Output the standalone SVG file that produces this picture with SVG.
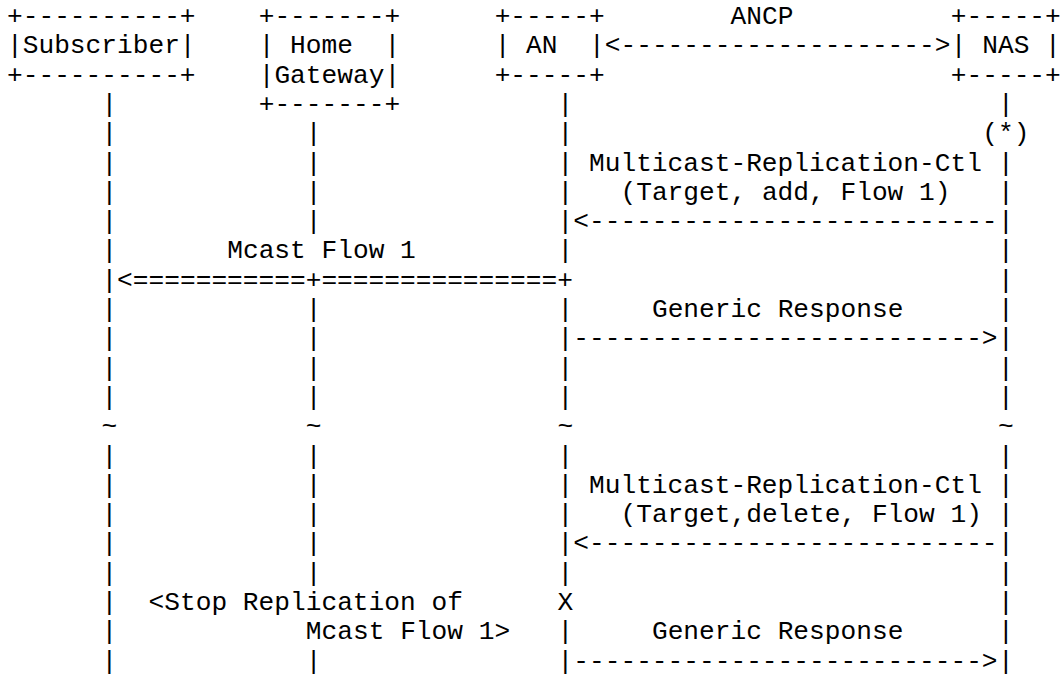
<svg xmlns="http://www.w3.org/2000/svg" width="1061" height="675" viewBox="0 0 1061 675">
<style>
.t{font-family:"Liberation Mono","Courier New",monospace;font-size:26.2px;fill:#000;white-space:pre}
</style>
<rect width="1061" height="675" fill="#fff"/>
<g id="subscriber">
<text class="t" x="7" y="24">+----------+</text>
<text class="t" x="7" y="53.3">|Subscriber|</text>
<text class="t" x="7" y="82.6">+----------+</text>
</g>
<g id="home-gateway">
<text class="t" x="258.68" y="24">+-------+</text>
<text class="t" x="258.68" y="53.3">| Home  |</text>
<text class="t" x="258.68" y="82.6">|Gateway|</text>
<text class="t" x="258.68" y="111.9">+-------+</text>
</g>
<g id="an">
<text class="t" x="494.63" y="24">+-----+</text>
<text class="t" x="494.63" y="53.3">| AN  |</text>
<text class="t" x="494.63" y="82.6">+-----+</text>
</g>
<g id="nas">
<text class="t" x="950.8" y="24">+-----+</text>
<text class="t" x="950.8" y="53.3">| NAS |</text>
<text class="t" x="950.8" y="82.6">+-----+</text>
</g>
<g id="connectors">
<text class="t" x="730.58" y="24">ANCP</text>
<text class="t" x="604.74" y="53.3">&lt;--------------------&gt;</text>
<!-- Subscriber lifeline -->
<text class="t" x="101.38" y="111.9">|</text>
<text class="t" x="101.38" y="141.2">|</text>
<text class="t" x="101.38" y="170.5">|</text>
<text class="t" x="101.38" y="199.8">|</text>
<text class="t" x="101.38" y="229.1">|</text>
<text class="t" x="101.38" y="258.4">|</text>
<text class="t" x="101.38" y="287.7">|</text>
<text class="t" x="101.38" y="317">|</text>
<text class="t" x="101.38" y="346.3">|</text>
<text class="t" x="101.38" y="375.6">|</text>
<text class="t" x="101.38" y="404.9">|</text>
<text class="t" x="101.38" y="434.2">~</text>
<text class="t" x="101.38" y="463.5">|</text>
<text class="t" x="101.38" y="492.8">|</text>
<text class="t" x="101.38" y="522.1">|</text>
<text class="t" x="101.38" y="551.4">|</text>
<text class="t" x="101.38" y="580.7">|</text>
<text class="t" x="101.38" y="610">|</text>
<text class="t" x="101.38" y="639.3">|</text>
<text class="t" x="101.38" y="668.6">|</text>
<!-- Home Gateway lifeline -->
<text class="t" x="305.87" y="141.2">|</text>
<text class="t" x="305.87" y="170.5">|</text>
<text class="t" x="305.87" y="199.8">|</text>
<text class="t" x="305.87" y="229.1">|</text>
<text class="t" x="305.87" y="317">|</text>
<text class="t" x="305.87" y="346.3">|</text>
<text class="t" x="305.87" y="375.6">|</text>
<text class="t" x="305.87" y="404.9">|</text>
<text class="t" x="305.87" y="434.2">~</text>
<text class="t" x="305.87" y="463.5">|</text>
<text class="t" x="305.87" y="492.8">|</text>
<text class="t" x="305.87" y="522.1">|</text>
<text class="t" x="305.87" y="551.4">|</text>
<text class="t" x="305.87" y="580.7">|</text>
<text class="t" x="305.87" y="668.6">|</text>
<!-- AN lifeline -->
<text class="t" x="557.55" y="111.9">|</text>
<text class="t" x="557.55" y="141.2">|</text>
<text class="t" x="557.55" y="170.5">|</text>
<text class="t" x="557.55" y="199.8">|</text>
<text class="t" x="557.55" y="229.1">|</text>
<text class="t" x="557.55" y="258.4">|</text>
<text class="t" x="557.55" y="317">|</text>
<text class="t" x="557.55" y="346.3">|</text>
<text class="t" x="557.55" y="375.6">|</text>
<text class="t" x="557.55" y="404.9">|</text>
<text class="t" x="557.55" y="434.2">~</text>
<text class="t" x="557.55" y="463.5">|</text>
<text class="t" x="557.55" y="492.8">|</text>
<text class="t" x="557.55" y="522.1">|</text>
<text class="t" x="557.55" y="551.4">|</text>
<text class="t" x="557.55" y="580.7">|</text>
<text class="t" x="557.55" y="610">X</text>
<text class="t" x="557.55" y="639.3">|</text>
<text class="t" x="557.55" y="668.6">|</text>
<!-- NAS lifeline -->
<text class="t" x="997.99" y="111.9">|</text>
<text class="t" x="982.26" y="141.2">(*)</text>
<text class="t" x="997.99" y="170.5">|</text>
<text class="t" x="997.99" y="199.8">|</text>
<text class="t" x="997.99" y="229.1">|</text>
<text class="t" x="997.99" y="258.4">|</text>
<text class="t" x="997.99" y="287.7">|</text>
<text class="t" x="997.99" y="317">|</text>
<text class="t" x="997.99" y="346.3">|</text>
<text class="t" x="997.99" y="375.6">|</text>
<text class="t" x="997.99" y="404.9">|</text>
<text class="t" x="997.99" y="434.2">~</text>
<text class="t" x="997.99" y="463.5">|</text>
<text class="t" x="997.99" y="492.8">|</text>
<text class="t" x="997.99" y="522.1">|</text>
<text class="t" x="997.99" y="551.4">|</text>
<text class="t" x="997.99" y="580.7">|</text>
<text class="t" x="997.99" y="610">|</text>
<text class="t" x="997.99" y="639.3">|</text>
<text class="t" x="997.99" y="668.6">|</text>
<!-- messages -->
<text class="t" x="589.01" y="170.5">Multicast-Replication-Ctl</text>
<text class="t" x="620.47" y="199.8">(Target, add, Flow 1)</text>
<text class="t" x="573.28" y="229.1">&lt;--------------------------</text>
<text class="t" x="227.22" y="258.4">Mcast Flow 1</text>
<text class="t" x="117.11" y="287.7">&lt;===========+===============+</text>
<text class="t" x="651.93" y="317">Generic Response</text>
<text class="t" x="573.28" y="346.3">--------------------------&gt;</text>
<text class="t" x="589.01" y="492.8">Multicast-Replication-Ctl</text>
<text class="t" x="620.47" y="522.1">(Target,delete, Flow 1)</text>
<text class="t" x="573.28" y="551.4">&lt;--------------------------</text>
<text class="t" x="148.57" y="610">&lt;Stop Replication of</text>
<text class="t" x="305.87" y="639.3">Mcast Flow 1&gt;</text>
<text class="t" x="651.93" y="639.3">Generic Response</text>
<text class="t" x="573.28" y="668.6">--------------------------&gt;</text>
</g>
</svg>
